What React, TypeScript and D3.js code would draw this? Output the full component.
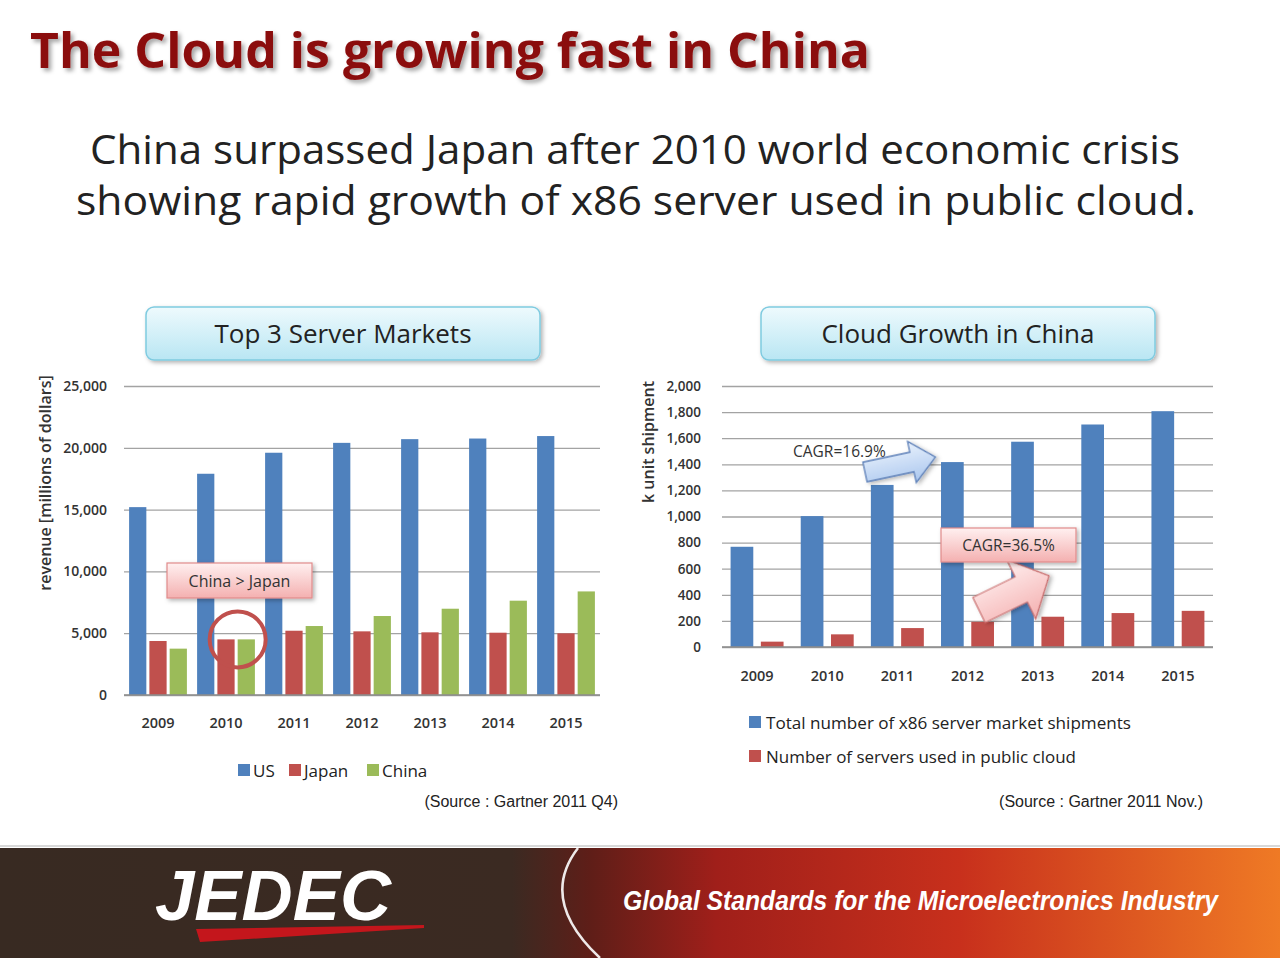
import React, { useRef, useEffect } from "react";
import * as d3 from "d3";

const years = ["2009", "2010", "2011", "2012", "2013", "2014", "2015"];

// left chart: revenue, millions of dollars
const marketSeries = ["US", "Japan", "China"];
const usRevenue = [15200, 17900, 19600, 20400, 20700, 20750, 20950];
const japanRevenue = [4370, 4500, 5200, 5150, 5070, 5040, 4990];
const chinaRevenue = [3750, 4500, 5580, 6390, 6980, 7630, 8380];
const revenueTicks = [0, 5000, 10000, 15000, 20000, 25000];

// right chart: k unit shipment
const cloudSeries = [
  "Total number of x86 server market shipments",
  "Number of servers used in public cloud",
];
const totalShipments = [768, 1003, 1242, 1417, 1573, 1705, 1807];
const cloudServers = [41, 97, 145, 193, 232, 260, 277];
const shipmentTicks = [0, 200, 400, 600, 800, 1000, 1200, 1400, 1600, 1800, 2000];

const BLUE = "#4f81bd";
const RED = "#c0504d";
const GREEN = "#9bbb59";
const FONT = "'Open Sans', 'Noto Sans', sans-serif";

interface ChartCfg {
  left: number;
  right: number;
  top: number;
  bottom: number;
  max: number;
  ticks: number[];
  series: number[][];
  colors: string[];
  outerPad: number;
  innerPad: number;
  tickPad: number;
  tickFont: number;
  yearGap: number;
}

const drawChart = (node: SVGGElement, cfg: ChartCfg) => {
  const g = d3.select(node);
  g.selectAll("*").remove();
  const width = cfg.right - cfg.left;
  const height = cfg.bottom - cfg.top;
  const plot = g.append("g").attr("transform", `translate(${cfg.left},${cfg.top})`);

  const y = d3.scaleLinear().domain([0, cfg.max]).range([height, 0]);
  const x0 = d3.scaleBand().domain(years).range([0, width]).paddingInner(cfg.outerPad).paddingOuter(cfg.outerPad / 2);
  const x1 = d3
    .scaleBand()
    .domain(cfg.series.map((_, i) => String(i)))
    .range([0, x0.bandwidth()])
    .paddingInner(cfg.innerPad);

  const axis = plot
    .append("g")
    .call(
      d3
        .axisLeft(y)
        .tickValues(cfg.ticks)
        .tickSize(-width)
        .tickPadding(cfg.tickPad)
        .tickFormat(d3.format(",") as any)
    );
  axis.select(".domain").remove();
  axis.selectAll(".tick line").attr("stroke", "#a3a3a3").attr("stroke-width", 1.3);
  axis
    .selectAll(".tick text")
    .attr("font-size", cfg.tickFont)
    .attr("font-family", FONT)
    .attr("font-weight", 600)
    .attr("fill", "#333");

  const groups = plot
    .selectAll(".year")
    .data(years)
    .join("g")
    .attr("transform", (d) => `translate(${x0(d)},0)`);

  cfg.series.forEach((vals, si) => {
    groups
      .append("rect")
      .attr("x", x1(String(si)) as number)
      .attr("width", x1.bandwidth())
      .attr("y", (_, i) => y(vals[i]))
      .attr("height", (_, i) => height - y(vals[i]))
      .attr("fill", cfg.colors[si]);
  });

  plot
    .append("line")
    .attr("x1", 0)
    .attr("x2", width)
    .attr("y1", height)
    .attr("y2", height)
    .attr("stroke", "#8c8c8c")
    .attr("stroke-width", 1.3);

  plot
    .append("g")
    .selectAll("text")
    .data(years)
    .join("text")
    .attr("x", (d) => (x0(d) as number) + x0.bandwidth() / 2)
    .attr("y", height + cfg.yearGap)
    .attr("text-anchor", "middle")
    .attr("font-size", 14.5)
    .attr("font-family", FONT)
    .attr("font-weight", 600)
    .attr("fill", "#333")
    .text((d) => d);

  return { x0, x1, y };
};

// block arrow pointing along +x, tail centre at origin
const arrow = (len: number, shaft: number, head: number, headLen: number) =>
  `M0,${-shaft} L${len - headLen},${-shaft} L${len - headLen},${-head} L${len},0 L${len - headLen},${head} L${len - headLen},${shaft} L0,${shaft} Z`;

const App = () => {
  const leftRef = useRef<SVGGElement>(null);
  const rightRef = useRef<SVGGElement>(null);
  const circleRef = useRef<SVGCircleElement>(null);

  useEffect(() => {
    document.body.style.margin = "0";
    if (leftRef.current) {
      const { x0, x1, y } = drawChart(leftRef.current, {
        left: 124,
        right: 600,
        top: 386,
        bottom: 695,
        max: 25000,
        ticks: revenueTicks,
        series: [usRevenue, japanRevenue, chinaRevenue],
        colors: [BLUE, RED, GREEN],
        outerPad: 0.15,
        innerPad: 0.15,
        tickPad: 17,
        tickFont: 14,
        yearGap: 33,
      });
      if (circleRef.current) {
        const cx = 124 + (x0("2010") as number) + (x1("1") as number) + x1.step();
        circleRef.current.setAttribute("cx", String(cx));
        circleRef.current.setAttribute("cy", String(386 + y(japanRevenue[1])));
      }
    }
    if (rightRef.current) {
      drawChart(rightRef.current, {
        left: 722,
        right: 1213,
        top: 386,
        bottom: 647,
        max: 2000,
        ticks: shipmentTicks,
        series: [totalShipments, cloudServers],
        colors: [BLUE, RED],
        outerPad: 0.245,
        innerPad: 0.25,
        tickPad: 21,
        tickFont: 13.5,
        yearGap: 34,
      });
    }
  }, []);

  return (
    <svg width={1280} height={958} style={{ display: "block", background: "#fff" }}>
      <defs>
        <filter id="shadow" x="-5%" y="-20%" width="110%" height="150%">
          <feDropShadow dx="3" dy="3" stdDeviation="2" floodColor="#000" floodOpacity="0.35" />
        </filter>
        <filter id="soft" x="-10%" y="-20%" width="125%" height="150%">
          <feDropShadow dx="2" dy="2" stdDeviation="2" floodColor="#000" floodOpacity="0.3" />
        </filter>
        <linearGradient id="cyanBox" x1="0" y1="0" x2="0" y2="1">
          <stop offset="0%" stopColor="#eefafd" />
          <stop offset="100%" stopColor="#b9e6f3" />
        </linearGradient>
        <linearGradient id="pinkBox" x1="0" y1="0" x2="0" y2="1">
          <stop offset="0%" stopColor="#fff0f0" />
          <stop offset="100%" stopColor="#f4b0b0" />
        </linearGradient>
        <linearGradient id="blueArrow" x1="0" y1="0" x2="0" y2="1">
          <stop offset="0%" stopColor="#e8f1fc" />
          <stop offset="100%" stopColor="#a9c6ee" />
        </linearGradient>
        <linearGradient id="footer" x1="0" y1="0" x2="1" y2="0">
          <stop offset="0%" stopColor="#382a22" />
          <stop offset="40%" stopColor="#3b2a22" />
          <stop offset="46%" stopColor="#5e1e18" />
          <stop offset="56%" stopColor="#a01f1a" />
          <stop offset="75%" stopColor="#c8301c" />
          <stop offset="100%" stopColor="#ef7a25" />
        </linearGradient>
      </defs>

      <text
        x={30}
        y={68}
        fontFamily={FONT}
        fontWeight={700}
        fontSize={49}
        fill="#8b0a0a"
        textLength={840}
        lengthAdjust="spacingAndGlyphs"
        filter="url(#shadow)"
      >
        The Cloud is growing fast in China
      </text>
      <text x={90} y={164} fontFamily={FONT} fontSize={41} fill="#222" textLength={1090} lengthAdjust="spacingAndGlyphs">
        China surpassed Japan after 2010 world economic crisis
      </text>
      <text x={76} y={215} fontFamily={FONT} fontSize={41} fill="#222" textLength={1120} lengthAdjust="spacingAndGlyphs">
        showing rapid growth of x86 server used in public cloud.
      </text>

      <rect x={146} y={307} width={394} height={53} rx={8} fill="url(#cyanBox)" stroke="#7fcbe0" strokeWidth={1.5} filter="url(#soft)" />
      <text x={343} y={343} textAnchor="middle" fontFamily={FONT} fontSize={26} fill="#222">
        Top 3 Server Markets
      </text>
      <rect x={761} y={307} width={394} height={53} rx={8} fill="url(#cyanBox)" stroke="#7fcbe0" strokeWidth={1.5} filter="url(#soft)" />
      <text x={958} y={343} textAnchor="middle" fontFamily={FONT} fontSize={26} fill="#222">
        Cloud Growth in China
      </text>

      <text transform="translate(51,483) rotate(-90)" textAnchor="middle" fontFamily={FONT} fontWeight={600} fontSize={16} fill="#333">
        revenue [millions of dollars]
      </text>
      <text transform="translate(654,442) rotate(-90)" textAnchor="middle" fontFamily={FONT} fontWeight={600} fontSize={16} fill="#333">
        k unit shipment
      </text>

      <g ref={leftRef} />
      <g ref={rightRef} />

      {/* left annotations */}
      <rect x={167} y={563} width={145} height={35} fill="url(#pinkBox)" stroke="#e08a8a" strokeWidth={1.2} filter="url(#soft)" />
      <text x={239.5} y={587} textAnchor="middle" fontFamily={FONT} fontSize={16} fill="#333">
        China &gt; Japan
      </text>
      <circle ref={circleRef} cx={236} cy={639} r={28} fill="none" stroke="#c0504d" strokeWidth={4} />

      {/* right annotations */}
      <path
        d={arrow(72, 10, 21, 24)}
        transform="translate(865,472) rotate(-12)"
        fill="url(#blueArrow)"
        stroke="#5b7fb8"
        strokeWidth={1.3}
        filter="url(#soft)"
      />
      <text x={793} y={457} fontFamily={FONT} fontSize={15.5} fill="#333">
        CAGR=16.9%
      </text>
      <path
        d={arrow(78, 14, 33, 31)}
        transform="translate(979,610) rotate(-26)"
        fill="url(#pinkBox)"
        stroke="#c86a6a"
        strokeWidth={1.2}
        filter="url(#soft)"
      />
      <rect x={941} y={528} width={135} height={34} fill="url(#pinkBox)" stroke="#e08a8a" strokeWidth={1.2} filter="url(#soft)" />
      <text x={1008.5} y={551} textAnchor="middle" fontFamily={FONT} fontSize={15.5} fill="#333">
        CAGR=36.5%
      </text>

      {/* legends */}
      <g fontFamily={FONT} fontSize={17} fill="#222">
        {marketSeries.map((s, i) => {
          const xs = [238, 289, 367];
          return (
            <g key={s}>
              <rect x={xs[i]} y={764} width={12} height={12} fill={[BLUE, RED, GREEN][i]} />
              <text x={xs[i] + 15} y={777}>
                {s}
              </text>
            </g>
          );
        })}
        {cloudSeries.map((s, i) => (
          <g key={s}>
            <rect x={749} y={716 + i * 34} width={12} height={12} fill={[BLUE, RED][i]} />
            <text x={766} y={729 + i * 34} textLength={i === 0 ? 365 : 310} lengthAdjust="spacingAndGlyphs">
              {s}
            </text>
          </g>
        ))}
      </g>
      <text x={618} y={807} textAnchor="end" fontFamily="'Liberation Sans', Arial, sans-serif" fontSize={16} fill="#222">
        (Source : Gartner 2011 Q4)
      </text>
      <text x={1203} y={807} textAnchor="end" fontFamily="'Liberation Sans', Arial, sans-serif" fontSize={16} fill="#222">
        (Source : Gartner 2011 Nov.)
      </text>

      {/* footer band */}
      <line x1={0} x2={1280} y1={846} y2={846} stroke="#d8d8d8" strokeWidth={2} />
      <rect x={0} y={848} width={1280} height={110} fill="url(#footer)" />
      <path d="M578,848 Q538,900 600,958" fill="none" stroke="#fff" strokeWidth={2.5} opacity={0.9} />
      <text
        x={155}
        y={920}
        fontFamily="'Liberation Sans Narrow', 'Liberation Sans', Arial, sans-serif"
        fontWeight={700}
        fontStyle="italic"
        fontSize={70}
        fill="#fff"
        textLength={236}
        lengthAdjust="spacingAndGlyphs"
      >
        JEDEC
      </text>
      <path d="M196,929 L424,925 L424,928 L200,942 Z" fill="#c4161c" />
      <text
        x={623}
        y={910}
        fontFamily="'Liberation Sans Narrow', 'Liberation Sans', Arial, sans-serif"
        fontWeight={700}
        fontStyle="italic"
        fontSize={27}
        fill="#fff"
        textLength={595}
        lengthAdjust="spacingAndGlyphs"
      >
        Global Standards for the Microelectronics Industry
      </text>
    </svg>
  );
};

export default App;
